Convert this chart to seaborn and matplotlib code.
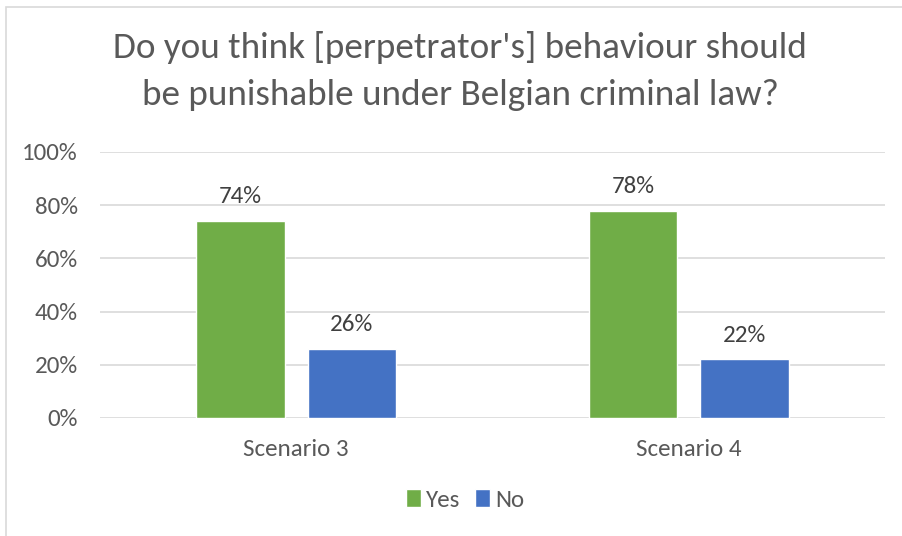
import matplotlib
matplotlib.use("Agg")
import matplotlib.pyplot as plt
from matplotlib.patches import Rectangle
import pandas as pd
import seaborn as sns

# Survey answers per scenario (share of respondents)
scenarios = ["Scenario 3", "Scenario 4"]
answers = ["Yes", "No"]
yes_share = [0.74, 0.78]
no_share = [0.26, 0.22]
y_ticks = [0.0, 0.2, 0.4, 0.6, 0.8, 1.0]
title = "Do you think [perpetrator's] behaviour should\nbe punishable under Belgian criminal law?"

df = pd.DataFrame({
    "scenario": scenarios * 2,
    "answer": [answers[0]] * len(scenarios) + [answers[1]] * len(scenarios),
    "share": yes_share + no_share,
})

sns.set_theme(style="white")
plt.rcParams["font.family"] = ["Carlito", "Liberation Sans Narrow", "Liberation Sans", "DejaVu Sans"]

text_gray = "#595959"
grid_gray = "#D9D9D9"
palette = {"Yes": "#70AD47", "No": "#4472C4"}

fig = plt.figure(figsize=(9.03, 5.36), dpi=100)
ax = fig.add_axes([100 / 903, 1 - 418 / 536, 785 / 903, 266 / 536])

sns.barplot(data=df, x="scenario", y="share", hue="answer", hue_order=answers,
            order=scenarios, palette=palette, width=0.568, gap=0.21,
            saturation=1, ax=ax, legend=True, zorder=3)

ax.set_ylim(0, 1)
ax.set_xlim(-0.5, 1.5)
ax.set_yticks(y_ticks)
ax.set_yticklabels([f"{int(round(t * 100))}%" for t in y_ticks])
ax.yaxis.grid(True, color=grid_gray, linewidth=1.2, zorder=0)
ax.set_axisbelow(True)
for side in ["top", "right", "left", "bottom"]:
    ax.spines[side].set_visible(False)
ax.tick_params(axis="both", length=0, labelsize=18, colors=text_gray)
ax.tick_params(axis="y", pad=16)
ax.tick_params(axis="x", pad=15)
ax.set_xlabel("")
ax.set_ylabel("")

for container in ax.containers:
    labels = [f"{int(round(b.get_height() * 100))}%" for b in container]
    ax.bar_label(container, labels=labels, padding=10, fontsize=18, color="#404040")

handles, labels = ax.get_legend_handles_labels()
ax.legend(handles, labels, loc="center", bbox_to_anchor=(465 / 903, 1 - 500 / 536),
          bbox_transform=fig.transFigure, ncol=2, frameon=False, fontsize=18,
          labelcolor=text_gray, handlelength=0.6, handleheight=0.75,
          handletextpad=0.2, columnspacing=0.6)

fig.text(460 / 903, 1 - 71 / 536, title, ha="center", va="center",
         fontsize=26.7, color=text_gray, linespacing=1.55)

fig.patches.append(Rectangle((6 / 903, -0.05), 1.2, (1 - 7 / 536) + 0.05,
                             transform=fig.transFigure, fill=False,
                             edgecolor=grid_gray, linewidth=1.2))

fig.savefig("out.png", dpi=100)
